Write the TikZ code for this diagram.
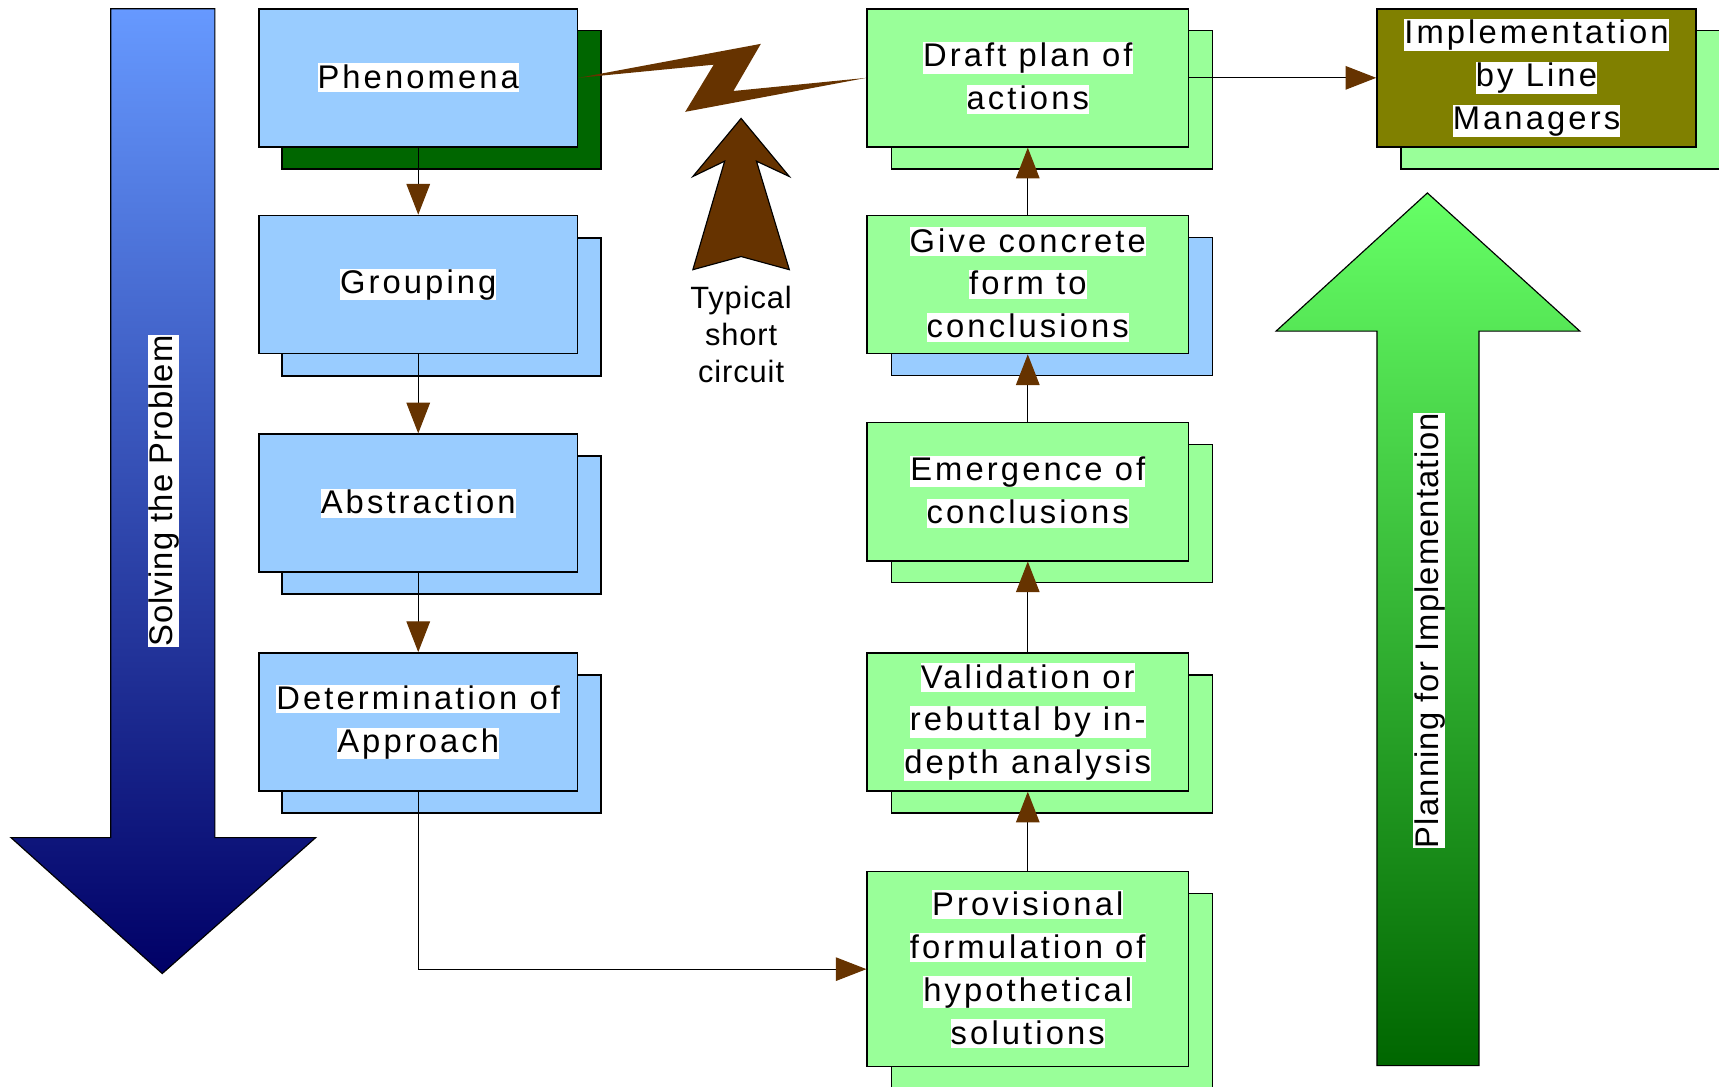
\documentclass[tikz,border=0pt]{standalone}
\usepackage{fontspec}
\setmainfont{Liberation Sans}
\newfontfamily\boxfont[LetterSpace=9.5]{Liberation Sans}
\newfontfamily\labfont[LetterSpace=3.5]{Liberation Sans}
\newfontfamily\typfont[LetterSpace=3]{Liberation Sans}
\usetikzlibrary{arrows.meta}
\definecolor{lblue}{HTML}{99CCFF}
\definecolor{lgreen}{HTML}{99FF99}
\definecolor{dgreen}{HTML}{006600}
\definecolor{olivebox}{HTML}{808000}
\definecolor{arrowbrown}{HTML}{663300}
\definecolor{bluetop}{HTML}{6699FF}
\definecolor{bluebot}{HTML}{000066}
\definecolor{greentop}{HTML}{66FF66}
\definecolor{greenbot}{HTML}{006600}
\newcommand\wbg[1]{{\setlength{\fboxsep}{0pt}\colorbox{white}{\rule[-0.12em]{0pt}{0.88em}#1}}}
\begin{document}
\begin{tikzpicture}[x=0.02cm,y=-0.02cm,
  box/.style={draw=black, line width=0.8pt, inner sep=0pt, align=center,
    minimum width=5.82cm, minimum height=2.52cm,
    font=\boxfont\fontsize{17}{22.3}\selectfont},
  bluebox/.style={box, fill=lblue},
  greenbox/.style={box, fill=lgreen, minimum width=5.86cm},
  conn/.style={draw=black, line width=0.6pt,
    -{Triangle[length=0.56cm,width=0.43cm,color=arrowbrown]}},
  biglabel/.style={rotate=90, inner sep=0pt, font=\labfont\fontsize{17}{20}\selectfont},
  bigarrow/.style={draw=black, line width=0.6pt}
]
\useasboundingbox (0,0) rectangle (1568,991);
\clip (0,0) rectangle (1568,991);

% big blue arrow
\shade[bigarrow, top color=bluetop, bottom color=bluebot]
  (101,8) -- (196,8) -- (196,764) -- (288,764) -- (148,888) -- (10,764) -- (101,764) -- cycle;
\node[biglabel] (solvlab) at (149,448) {\wbg{Solving the Problem}};

% big green arrow
\shade[bigarrow, top color=greentop, bottom color=greenbot]
  (1302,176) -- (1441,302) -- (1349,302) -- (1349,972) -- (1256,972) -- (1256,302) -- (1164,302) -- cycle;
\node[biglabel] (planlab) at (1303.5,575) {\wbg{Planning for Implementation}};

% left column
\node[bluebox, fill=dgreen] (phensh) at (402.5,91) {};
\node[bluebox] (phen) at (381.5,71) {\wbg{Phenomena}};
\node[bluebox] (groupsh) at (402.5,280) {};
\node[bluebox] (group) at (381.5,259.5) {\wbg{Grouping}};
\node[bluebox] (abssh) at (402.5,479) {};
\node[bluebox] (abs) at (381.5,459) {\wbg{Abstraction}};
\node[bluebox] (detsh) at (402.5,678.5) {};
\node[bluebox] (det) at (381.5,658.5) {\wbg{Determination of}\\\wbg{Approach}};

% middle column
\node[greenbox] (draftsh) at (959.5,91) {};
\node[greenbox] (draft) at (937.5,71) {\wbg{Draft plan of}\\\wbg{actions}};
\node[greenbox, fill=lblue] (givesh) at (959.5,279.5) {};
\node[greenbox] (give) at (937.5,259.5) {\wbg{Give concrete}\\\wbg{form to}\\\wbg{conclusions}};
\node[greenbox] (emergsh) at (959.5,468.5) {};
\node[greenbox] (emerg) at (937.5,448.5) {\wbg{Emergence of}\\\wbg{conclusions}};
\node[greenbox] (validsh) at (959.5,678.5) {};
\node[greenbox] (valid) at (937.5,658.5) {\wbg{Validation or}\\\wbg{rebuttal by in-}\\\wbg{depth analysis}};
\node[greenbox, minimum height=3.56cm] (provsh) at (959.5,904) {};
\node[greenbox, minimum height=3.56cm] (prov) at (937.5,884) {\wbg{Provisional}\\\wbg{formulation of}\\\wbg{hypothetical}\\\wbg{solutions}};

% implementation
\node[greenbox, minimum width=5.82cm] (implsh) at (1423.5,91) {};
\node[box, fill=olivebox] (impl) at (1401.5,71) {\wbg{Implementation}\\\wbg{by Line}\\\wbg{Managers}};

% connectors
\draw[conn] (phen.south) -- (group.north);
\draw[conn] (group.south) -- (abs.north);
\draw[conn] (abs.south) -- (det.north);
\draw[conn] (det.south) |- (prov.west);
\draw[conn] (prov.north) -- (valid.south);
\draw[conn] (valid.north) -- (emerg.south);
\draw[conn] (emerg.north) -- (give.south);
\draw[conn] (give.north) -- (draft.south);
\draw[conn] (draft.east) -- (impl.west);

% short circuit bolt
\fill[arrowbrown] (phen.east) -- (694,40) -- (669,83) -- (draft.west) -- (625,102) -- (651,59) -- cycle;
\filldraw[fill=arrowbrown, draw=black, line width=0.6pt]
  (676,108) -- (720,161) -- (690,147) -- (720,246) -- (676,234) -- (632,246) -- (661,147) -- (632,161) -- cycle;
\node[align=center, font=\typfont\fontsize{16}{19.3}\selectfont, inner sep=0pt] (typ) at (676,305) {Typical\\short\\circuit};
\end{tikzpicture}
\end{document}
